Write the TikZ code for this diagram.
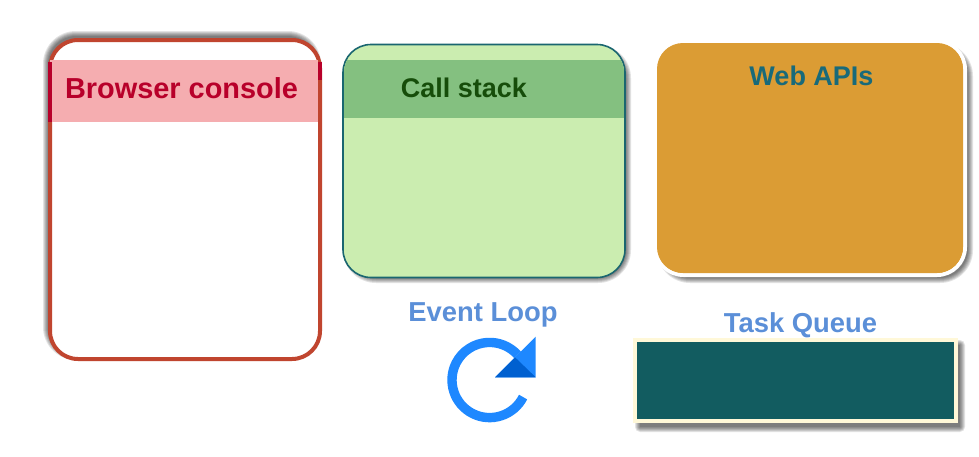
\documentclass[tikz,border=0pt]{standalone}
\usepackage{fontspec}
\setmainfont{Liberation Sans}
\definecolor{consoleborder}{HTML}{C0452F}
\definecolor{consoleband}{HTML}{F5ADB0}
\definecolor{consoletext}{HTML}{B8002A}
\definecolor{stackfill}{HTML}{CBEDB0}
\definecolor{stackband}{HTML}{84C080}
\definecolor{stacktext}{HTML}{164D0A}
\definecolor{stackborder}{HTML}{1A6670}
\definecolor{webfill}{HTML}{DB9C34}
\definecolor{webtext}{HTML}{186A7A}
\definecolor{labelblue}{HTML}{5B8FD8}
\definecolor{taskfill}{HTML}{125C60}
\definecolor{taskborder}{HTML}{FFF8D8}
\definecolor{iconlight}{HTML}{1E88FF}
\definecolor{icondark}{HTML}{0060D0}
% soft shadow: stacked translucent rounded rectangles {x0}{y0}{x1}{y1}{radius}
\newcommand{\softshadow}[5]{%
  \foreach \g in {5,4,3,2,1,0}{%
    \fill[black,opacity=0.11,rounded corners={#5+\g*1pt}]
      (#1-\g,#2-\g) rectangle (#3+\g,#4+\g);
  }%
}
\tikzset{
  title/.style={anchor=base,inner sep=0pt,font=\fontsize{27}{27}\selectfont\bfseries},
  bigtitle/.style={title,font=\fontsize{28.9}{29}\selectfont\bfseries},
  midtitle/.style={title,font=\fontsize{27.4}{27}\selectfont\bfseries},
}
\begin{document}
\begin{tikzpicture}[x=1pt,y=-1pt]
\useasboundingbox (0,0) rectangle (979,456);
\fill[white] (0,0) rectangle (979,456);
% Browser console
\softshadow{48}{36}{316}{355}{28pt}
\draw[consoleborder,line width=4pt,fill=white,rounded corners=28pt] (50,40) rectangle (320,359);
\fill[consoleband] (50,60) rectangle (318,122);
\fill[consoletext] (48,62) rectangle (52,122);
\fill[consoletext] (318,62) rectangle (322,80);
\node[bigtitle,text=consoletext] (console) at (181.5,98) {Browser console};
% Call stack
\softshadow{348}{50}{626}{278}{28pt}
\draw[stackborder,line width=1.6pt,fill=stackfill,rounded corners=28pt] (343,44.5) rectangle (625,277.5);
\begin{scope}
  \clip[rounded corners=28pt] (343.8,45.3) rectangle (624.2,276.7);
  \fill[stackband] (343.8,60) rectangle (624.2,118);
\end{scope}
\node[title,text=stacktext] (stack) at (464,97) {Call stack};
% Web APIs
\softshadow{662}{48}{968}{278}{28pt}
\draw[white,line width=4pt,fill=webfill,rounded corners=28pt] (655.5,41.5) rectangle (965,275);
\fill[webfill,rounded corners=26pt] (657,43) rectangle (963,273);
\node[title,text=webtext] (web) at (811.5,85) {Web APIs};
% Event loop
\node[midtitle,text=labelblue] (loop) at (483,321) {Event Loop};
\draw[iconlight,line width=9.4pt] (489.6,380) ++(-27:37.6pt) arc[start angle=-27,end angle=-318,radius=37.6pt];
\fill[iconlight] (535.7,336.7) -- (535.7,377.3) -- (495,377.3) -- cycle;
\fill[icondark] (515,357.3) -- (535.7,377.3) -- (495,377.3) -- cycle;
% Task queue
\node[midtitle,text=labelblue] (task) at (800.5,332) {Task Queue};
\softshadow{640}{345}{960}{427}{0pt}
\fill[taskborder] (633,338) rectangle (958,423);
\fill[taskfill] (637,342) rectangle (954,419);
\end{tikzpicture}
\end{document}
